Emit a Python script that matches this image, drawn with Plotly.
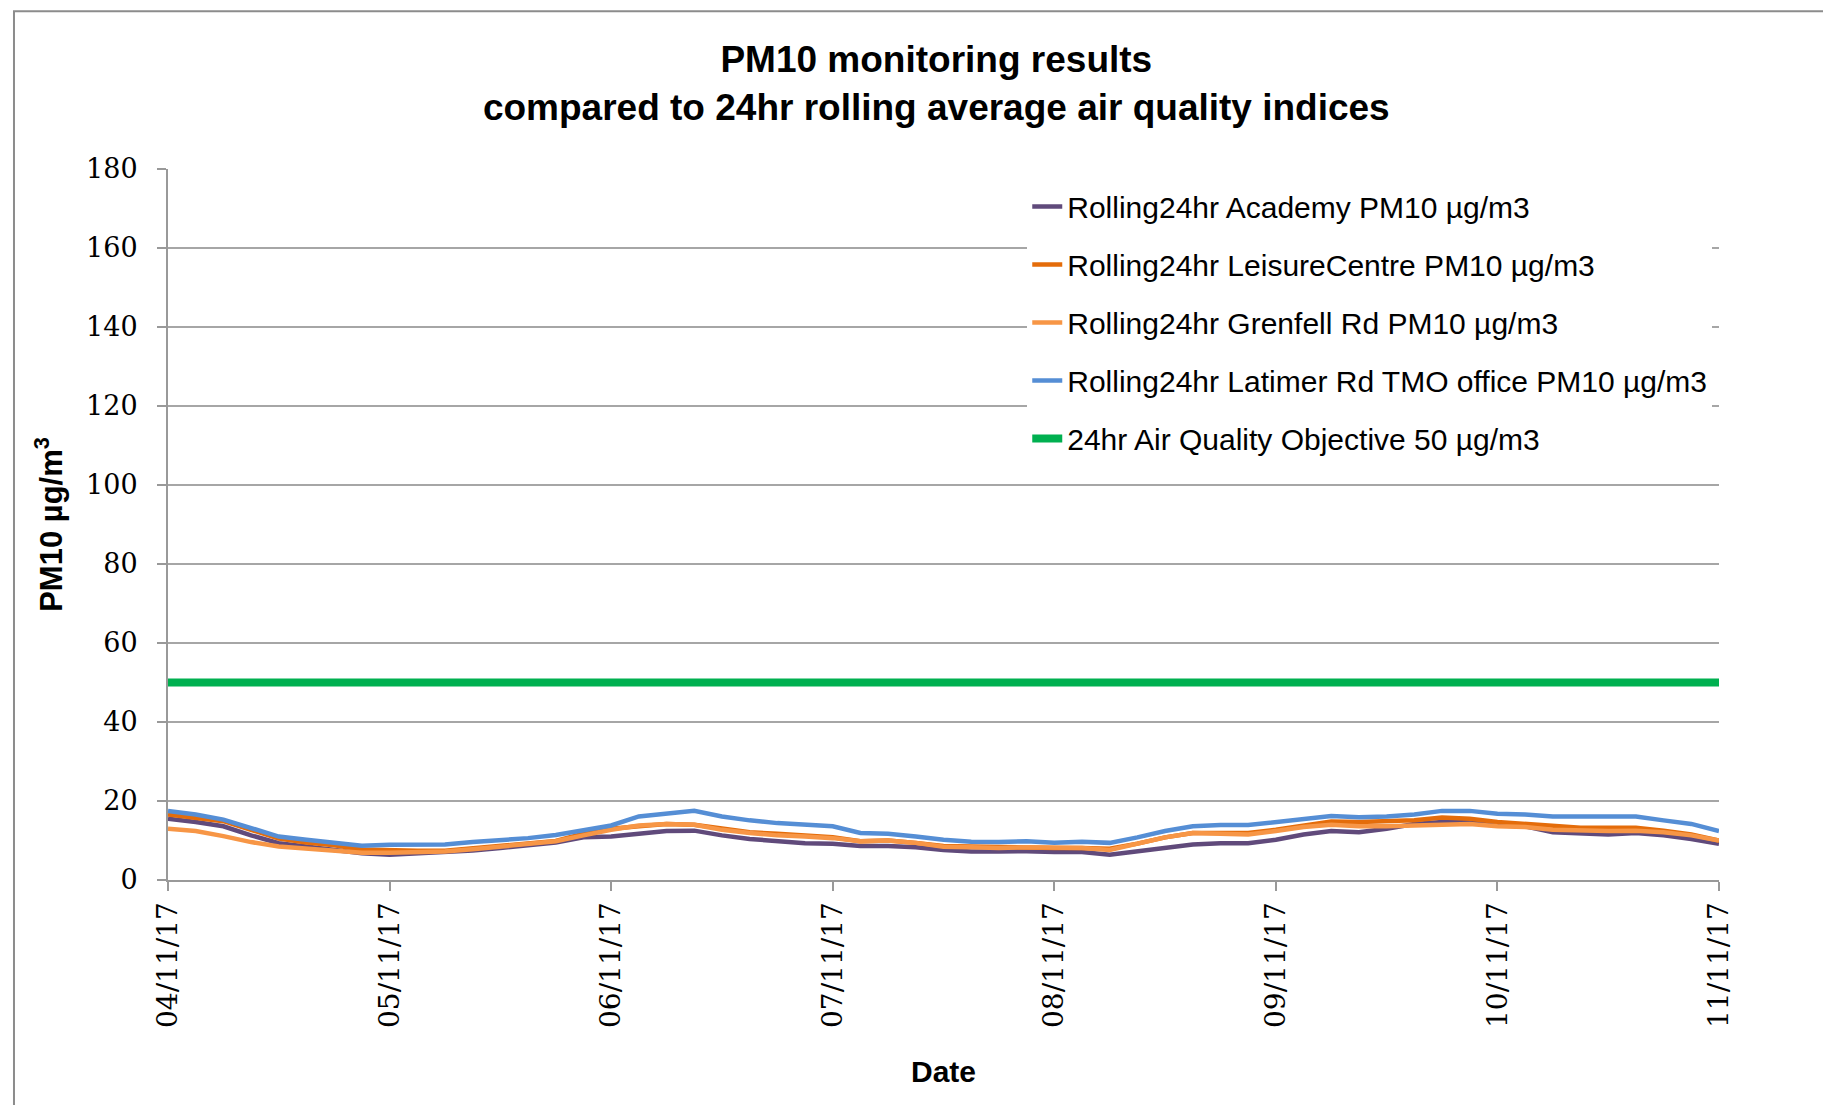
import pandas as pd
import plotly.graph_objects as go

# 3-hourly readings from 04/11/17 00:00 to 11/11/17 00:00
start = "2017-11-04 00:00"
step_hours = 3

academy = [15.5, 14.7, 13.6, 11.3, 9.3, 8.5, 7.8, 6.8,
           6.4, 6.8, 7.0, 7.5, 8.1, 8.7, 9.5, 10.8,
           11.0, 11.7, 12.4, 12.5, 11.3, 10.4, 9.8, 9.3,
           9.2, 8.6, 8.6, 8.3, 7.6, 7.2, 7.2, 7.3,
           7.1, 7.1, 6.4, 7.2, 8.1, 9.0, 9.3, 9.3,
           10.2, 11.5, 12.4, 12.1, 13.0, 14.2, 14.7, 14.7,
           13.8, 13.6, 12.1, 11.9, 11.5, 11.9, 11.3, 10.4, 9.2]
leisure = [16.6, 15.8, 14.9, 12.7, 10.5, 9.5, 8.8, 7.7,
           7.5, 7.4, 7.4, 8.0, 8.7, 9.3, 9.9, 11.7,
           13.0, 13.6, 14.2, 14.0, 13.0, 12.1, 11.7, 11.3,
           10.8, 9.8, 10.0, 9.4, 8.6, 8.5, 8.3, 8.3,
           8.1, 8.1, 7.9, 9.2, 10.8, 11.9, 11.9, 11.9,
           12.7, 13.8, 14.8, 14.7, 14.9, 15.1, 15.8, 15.5,
           14.7, 14.2, 13.6, 13.2, 13.2, 13.2, 12.5, 11.5, 10.0]
grenfell = [13.0, 12.4, 11.1, 9.6, 8.5, 8.0, 7.5, 6.9,
            6.9, 7.0, 7.2, 7.8, 8.5, 9.0, 9.8, 11.3,
            12.7, 13.8, 14.2, 14.0, 12.7, 11.9, 11.3, 11.0,
            10.6, 9.8, 10.0, 9.4, 8.4, 8.3, 8.1, 8.3,
            8.1, 8.1, 7.6, 9.3, 10.8, 11.9, 11.7, 11.5,
            12.4, 13.4, 14.0, 13.6, 13.6, 13.8, 14.2, 14.2,
            13.6, 13.4, 12.7, 12.5, 12.4, 12.5, 12.1, 11.3, 10.0]
latimer = [17.5, 16.6, 15.3, 13.0, 11.0, 10.2, 9.5, 8.7,
           8.9, 8.9, 9.0, 9.6, 10.1, 10.6, 11.4, 12.7,
           13.8, 16.1, 16.9, 17.5, 16.1, 15.1, 14.4, 14.0,
           13.6, 11.9, 11.7, 11.0, 10.2, 9.7, 9.6, 9.8,
           9.4, 9.7, 9.4, 10.8, 12.4, 13.6, 13.9, 13.9,
           14.7, 15.5, 16.2, 15.9, 16.1, 16.6, 17.5, 17.5,
           16.8, 16.6, 16.1, 16.1, 16.1, 16.1, 15.1, 14.2, 12.4]
objective = 50

series_names = [
    "Rolling24hr Academy PM10 µg/m3",
    "Rolling24hr LeisureCentre PM10 µg/m3",
    "Rolling24hr Grenfell Rd PM10 µg/m3",
    "Rolling24hr Latimer Rd TMO office PM10 µg/m3",
]
objective_name = "24hr Air Quality Objective 50 µg/m3"
colors = ["#604A7B", "#E46C0A", "#F79646", "#558ED5"]
objective_color = "#00B050"

times = pd.date_range(start, periods=len(academy), freq=f"{step_hours}h")

FONT = "Liberation Sans, Arial, sans-serif"
TICKFONT = "DejaVu Serif, serif"

fig = go.Figure()
for name, vals, col in zip(series_names, [academy, leisure, grenfell, latimer], colors):
    fig.add_trace(go.Scatter(x=times, y=vals, mode="lines", name=name,
                             legendgroup=name,
                             line=dict(color=col, width=4.5)))
fig.add_trace(go.Scatter(x=[times[0], times[-1]], y=[objective, objective],
                         mode="lines", name=objective_name, legendgroup="obj",
                         line=dict(color=objective_color, width=8)))

fig.update_layout(
    width=1831, height=1105,
    paper_bgcolor="white", plot_bgcolor="white",
    margin=dict(l=160, r=120, t=161, b=233),
    font=dict(family=FONT, color="black"),
    title=dict(text="<b>PM10 monitoring results<br>compared to 24hr rolling average air quality indices</b>",
               x=0.507, xanchor="center", y=0.942, yanchor="middle",
               font=dict(size=37, family=FONT, color="black")),
    showlegend=True,
    legend=dict(x=0.554, y=0.984, xanchor="left", yanchor="top",
                bgcolor="white", borderwidth=0,
                font=dict(size=30, family=FONT, color="black"),
                traceorder="grouped", tracegroupgap=16,
                itemwidth=30),
    xaxis=dict(
        type="date",
        range=[times[0], times[-1]],
        tickformat="%d/%m/%y", dtick=86400000, tick0=times[0],
        tickangle=-90,
        tickfont=dict(family=TICKFONT, size=28, color="black"),
        ticks="outside", ticklen=9, tickcolor="#999999", tickwidth=1.5,
        showline=True, linecolor="#999999", linewidth=2,
        showgrid=False, zeroline=False,
        title=dict(text="<b>Date</b>", font=dict(size=30, family=FONT, color="black"), standoff=34),
    ),
    yaxis=dict(
        range=[0, 180], dtick=20,
        tickfont=dict(family=TICKFONT, size=27, color="black"),
        ticks="outside", ticklen=9, tickcolor="#999999", tickwidth=1.5,
        ticklabelstandoff=14,
        showline=True, linecolor="#999999", linewidth=2,
        showgrid=True, gridcolor="#A6A6A6", gridwidth=1.5,
        zeroline=False,
        title=dict(text="<b>PM10 µg/m<sup>3</sup></b>", font=dict(size=31, family=FONT, color="black"), standoff=14),
    ),
)

# outer chart-area frame
fig.add_shape(type="rect", xref="paper", yref="paper",
              x0=-0.0993, x1=1.2, y0=-0.4, y1=1.222,
              line=dict(color="#8C8C8C", width=2), fillcolor="rgba(0,0,0,0)", layer="below")

fig.write_html("out.html")
